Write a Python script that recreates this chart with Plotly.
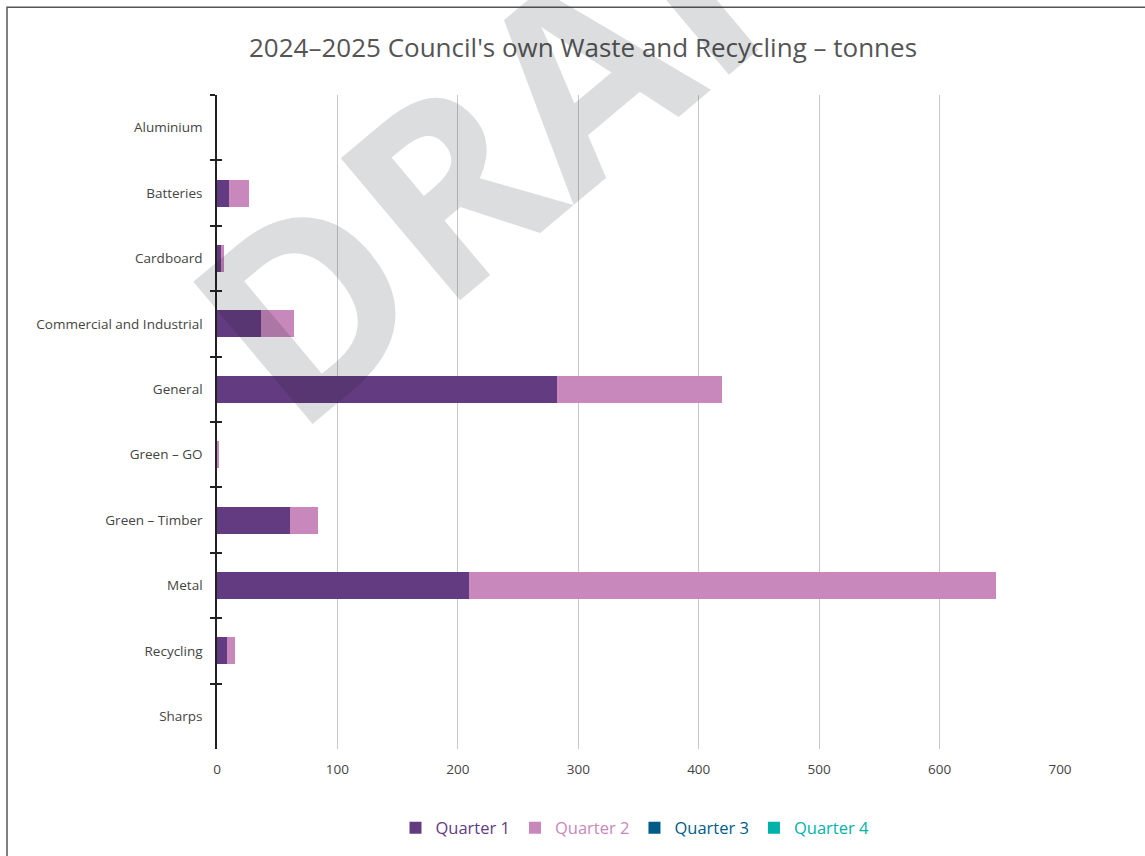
import plotly.graph_objects as go

categories = ["Aluminium", "Batteries", "Cardboard", "Commercial and Industrial", "General",
              "Green – GO", "Green – Timber", "Metal", "Recycling", "Sharps"]
quarter_1 = [0, 10, 3, 36.5, 282, 0, 60.5, 209, 8, 0]
quarter_2 = [0, 16.5, 2.5, 27.5, 137.5, 1, 23.5, 438, 7, 0]
quarter_3 = [0, 0, 0, 0, 0, 0, 0, 0, 0, 0]
quarter_4 = [0, 0, 0, 0, 0, 0, 0, 0, 0, 0]
x_ticks = [0, 100, 200, 300, 400, 500, 600, 700]

series = [
    ("Quarter 1", quarter_1, "#633B80"),
    ("Quarter 2", quarter_2, "#C888BC"),
    ("Quarter 3", quarter_3, "#005C87"),
    ("Quarter 4", quarter_4, "#00B2A9"),
]

FONT = "Open Sans"
fig = go.Figure()
for name, vals, col in series:
    fig.add_trace(go.Bar(
        x=vals, y=categories, orientation="h", marker=dict(color=col, line=dict(width=0)),
        name=f"<span style='color:{col}'>{name}</span>",
    ))

# invisible helper trace for inside tick marks (crossing ticks)
fig.add_trace(go.Scatter(x=[0] * len(categories), y=categories, yaxis="y2", mode="markers",
                         marker=dict(opacity=0), showlegend=False, hoverinfo="skip"))

L, R, T, B = 217, 85, 95, 106
W, H = 1145, 856
pw, ph = W - L - R, H - T - B

fig.update_layout(
    width=W, height=H,
    margin=dict(l=L, r=R, t=T, b=B, pad=0),
    barmode="stack", bargap=0.59,
    paper_bgcolor="white", plot_bgcolor="white",
    font=dict(family=FONT, color="#444444", size=13),
    title=dict(text="2024–2025 Council's own Waste and Recycling – tonnes",
               x=583 / W, xanchor="center", y=1 - 48 / H, yanchor="middle",
               font=dict(family=FONT, size=26, color="#555555")),
    xaxis=dict(range=[0, 700], tickvals=x_ticks, showgrid=True, gridcolor="#C8C8C8", gridwidth=1,
               zeroline=False, showline=False, ticks="", ticklabelstandoff=10,
               tickfont=dict(size=13.5, color="#444444")),
    yaxis=dict(categoryorder="array", categoryarray=categories, range=[9.5, -0.5],
               showline=True, linecolor="#222222", linewidth=1.5,
               ticks="outside", tickson="boundaries", ticklen=5, tickcolor="#222222", tickwidth=1.5,
               ticklabelstandoff=10, tickfont=dict(size=13.5, color="#444444"), showgrid=False),
    yaxis2=dict(overlaying="y", side="left", categoryorder="array", categoryarray=categories,
                range=[9.5, -0.5], showline=False, ticks="inside", tickson="boundaries", ticklen=5,
                tickcolor="#222222", tickwidth=1.5, showticklabels=False, showgrid=False),
    legend=dict(orientation="h", x=(635 - L) / pw, xanchor="center",
                y=1 - (828 - T) / ph, yanchor="middle",
                font=dict(family=FONT, size=16.5), traceorder="normal", itemwidth=30),
    showlegend=True,
)

# chart frame border (partially visible)
fig.add_shape(type="rect", xref="paper", yref="paper",
              x0=(7 - L) / pw, x1=(W + 50 - L) / pw,
              y0=1 - (H + 50 - T) / ph, y1=1 - (7 - T) / ph,
              line=dict(color="#555555", width=1.5), fillcolor="rgba(0,0,0,0)", layer="below")

# DRAFT watermark
fig.add_annotation(text="DRAFT", xref="paper", yref="paper",
                   x=(550 - L) / pw, y=1 - (93 - T) / ph, xanchor="center", yanchor="middle",
                   showarrow=False, textangle=-40,
                   font=dict(family="Open Sans", size=260, color="rgba(20,25,35,0.15)", weight=700))

fig.write_html("out.html")
